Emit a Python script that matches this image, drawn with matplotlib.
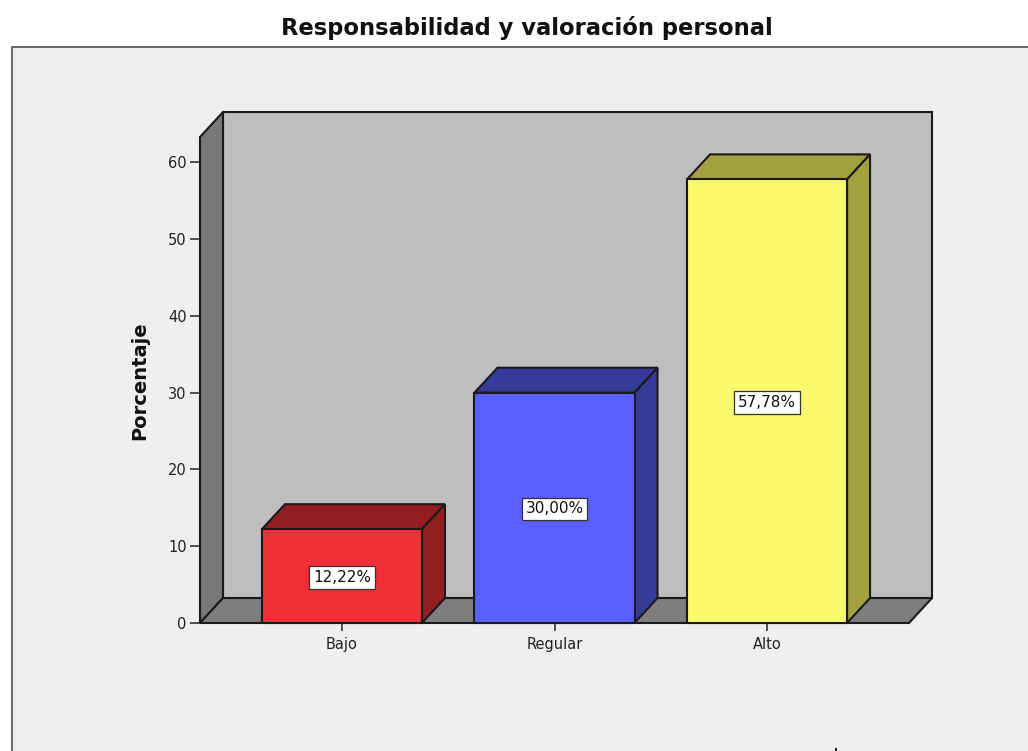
import matplotlib
matplotlib.use("Agg")
import matplotlib.pyplot as plt
from matplotlib.lines import Line2D
from matplotlib.patches import Polygon, Rectangle

plt.rcParams['font.family'] = ['DejaVu Sans']

categories = ["Bajo", "Regular", "Alto"]
percentages = [12.22, 30.00, 57.78]
value_labels = ["12,22%", "30,00%", "57,78%"]
y_ticks = [0, 10, 20, 30, 40, 50, 60]
front_colors = ["#EE3036", "#5A5FFF", "#FBF96E"]
dark_colors = ["#931D21", "#363A99", "#A3A040"]

W, H = 1028, 751
fig = plt.figure(figsize=(W / 100, H / 100), dpi=100, facecolor="white")

# fondo gris del grafico (se corta por la derecha y por abajo)
fig.add_artist(Rectangle((12 / W, -0.01), 1.1, 1 - 47 / H + 0.01, transform=fig.transFigure,
                         facecolor="#EFEFEF", edgecolor="#666666", linewidth=1.4, zorder=-1))
# resto de un caracter cortado en el borde inferior
fig.add_artist(Line2D([836 / W, 836 / W], [0, 2 / H], transform=fig.transFigure, color="#222222", linewidth=1.5))

# ejes: x de 200 a 909 px, y de 623 a 137 px
ax = fig.add_axes([200 / W, 1 - 623 / H, 709 / W, 486 / H])
ax.set_xlim(-0.668, 2.668)
ax.set_ylim(0, 63.3)
ax.patch.set_visible(False)
for s in ax.spines.values():
    s.set_visible(False)

# profundidad del efecto 3D en unidades de datos
dx = 23 / 212.5
dy = 25 / 7.683
x0, x1 = ax.get_xlim()
ytop = ax.get_ylim()[1]
bar_w = 160 / 212.5


def poly(pts, color, z, lw=1.5):
    ax.add_patch(Polygon(pts, closed=True, facecolor=color, edgecolor="#1A1A1A",
                         linewidth=lw, joinstyle="miter", zorder=z, clip_on=False))


# paredes y suelo
poly([(x0 + dx, dy), (x1 + dx, dy), (x1 + dx, ytop + dy), (x0 + dx, ytop + dy)], "#BEBEBE", 1)
poly([(x0, 0), (x0 + dx, dy), (x0 + dx, ytop + dy), (x0, ytop)], "#787878", 2)
poly([(x0, 0), (x1, 0), (x1 + dx, dy), (x0 + dx, dy)], "#7E7E7E", 2)

# barras
for i, (v, c, d) in enumerate(zip(percentages, front_colors, dark_colors)):
    l, r = i - bar_w / 2, i + bar_w / 2
    poly([(l, v), (r, v), (r + dx, v + dy), (l + dx, v + dy)], d, 3)
    poly([(r, 0), (r + dx, dy), (r + dx, v + dy), (r, v)], d, 3)
    poly([(l, 0), (r, 0), (r, v), (l, v)], c, 4)
    ax.text(i, v / 2 - 0.15, value_labels[i], ha="center", va="center", fontsize=11, color="#111111", zorder=6,
            bbox=dict(boxstyle="square,pad=0.25", facecolor="white", edgecolor="#333333", linewidth=0.9))

ax.set_xticks(range(len(categories)))
ax.set_xticklabels(categories)
ax.set_yticks(y_ticks)
ax.tick_params(axis="x", length=6, width=1.2, color="#333333", labelsize=10.5, labelcolor="#222222", pad=4)
ax.tick_params(axis="y", length=7.5, width=1.2, color="#333333", labelsize=10.5, labelcolor="#222222", pad=2)

fig.text(140 / W, 1 - 381 / H, "Porcentaje", rotation=90, ha="center", va="center",
         fontsize=14, fontweight="bold", color="#111111")
fig.text(527 / W, 1 - 28 / H, "Responsabilidad y valoración personal", ha="center", va="center",
         fontsize=16.3, fontweight="bold", color="#111111")

fig.savefig("out.png", dpi=100, facecolor=fig.get_facecolor())
